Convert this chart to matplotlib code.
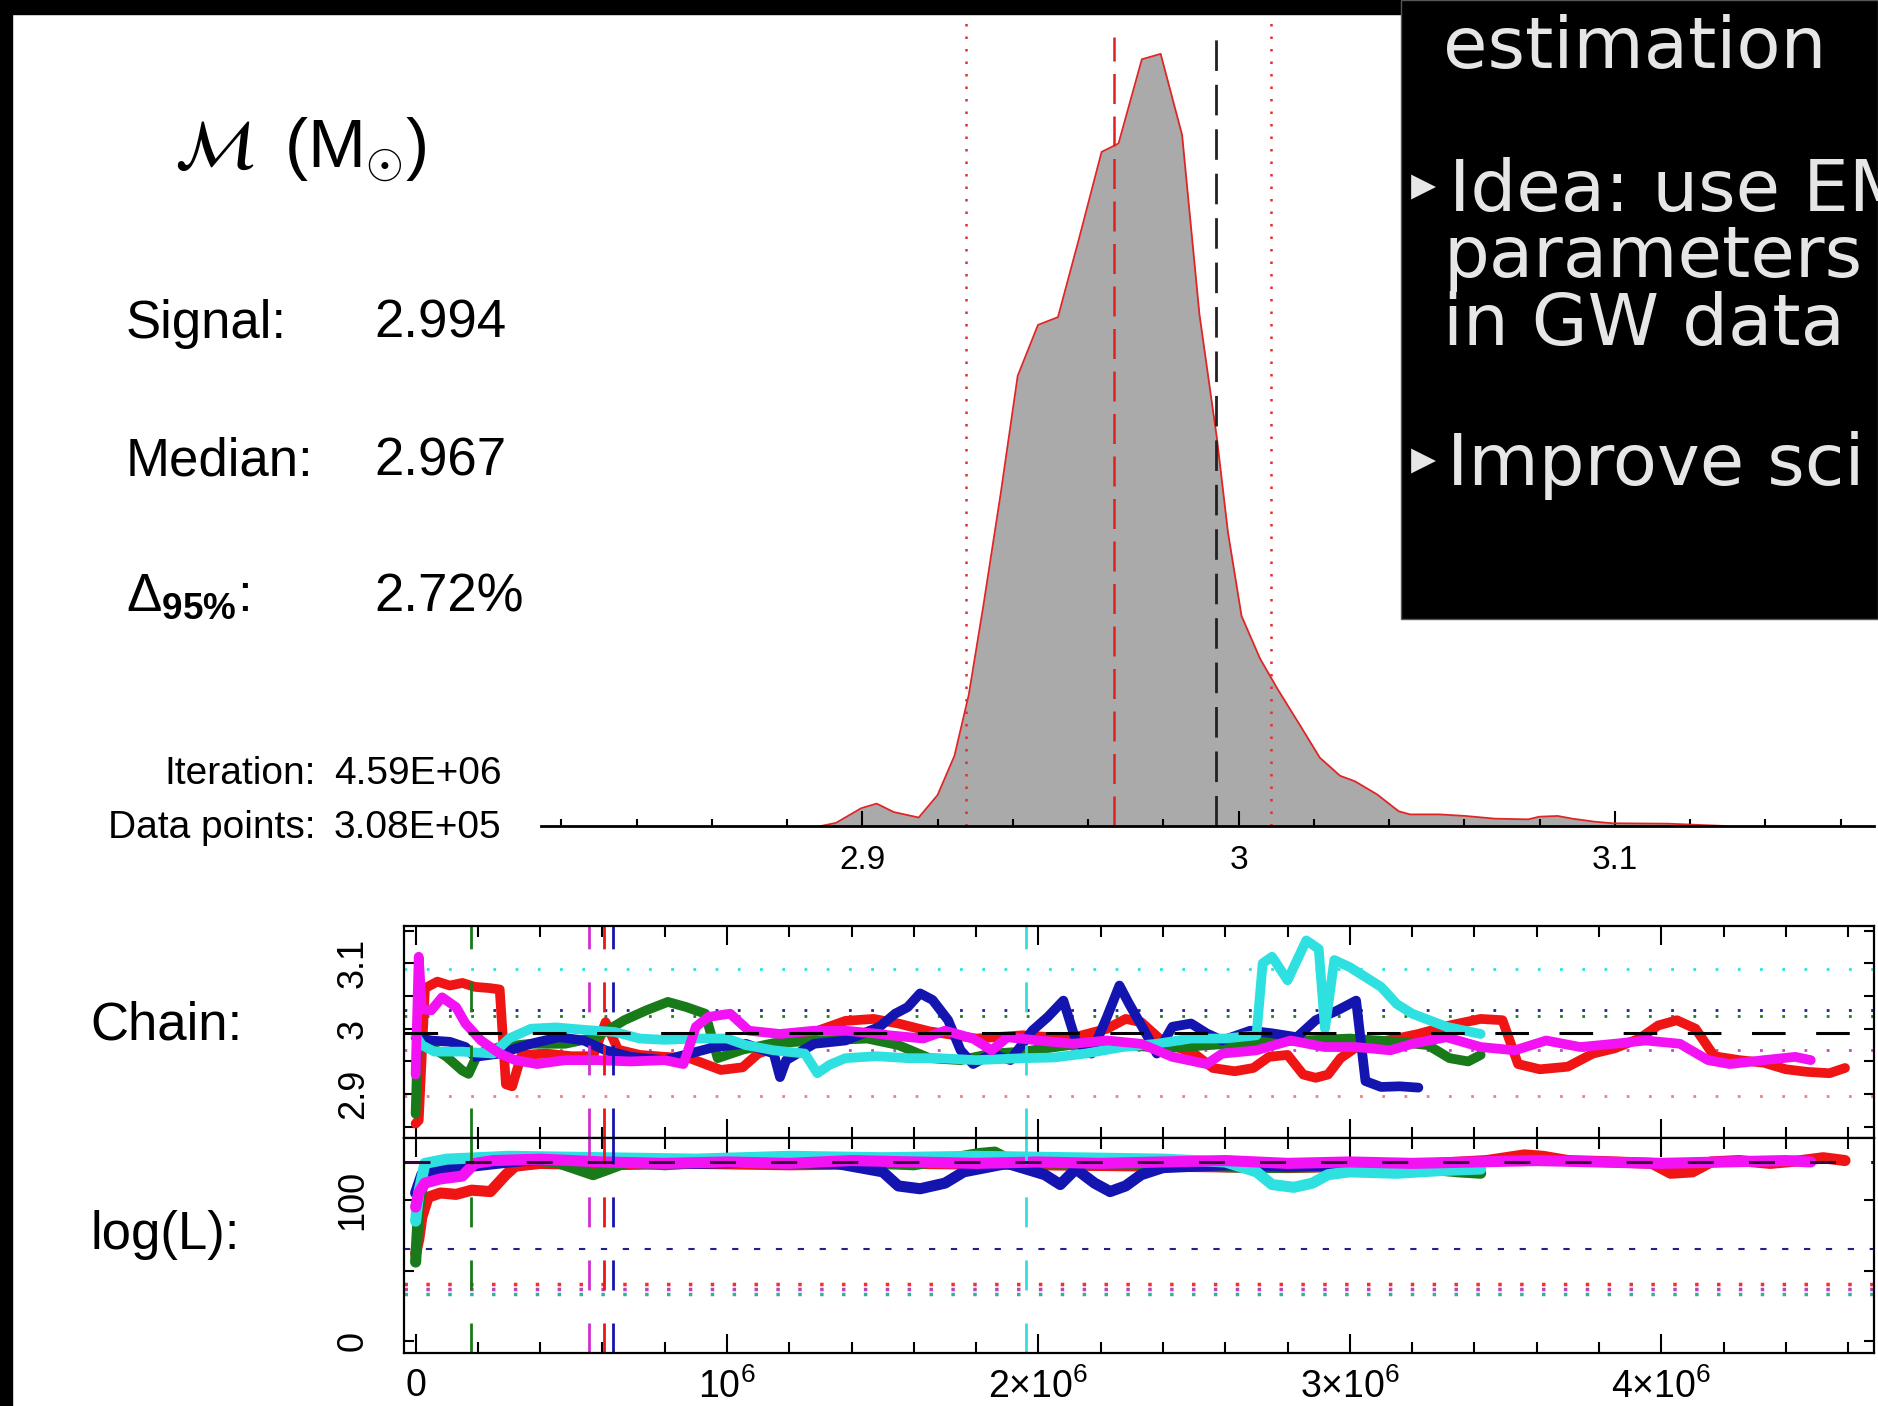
import matplotlib
matplotlib.use("Agg")
import matplotlib.pyplot as plt
from matplotlib.patches import Rectangle
from matplotlib.ticker import MultipleLocator

# -- canvas (pixel geometry of the slide screenshot) --------------------------
W, H, DPI = 1878, 1406, 100


def fx(px):
    return px / W


def fy(py):
    return 1.0 - py / H


plt.rcParams.update({
    "font.family": ["Liberation Sans", "DejaVu Sans"],
    "mathtext.fontset": "custom",
    "mathtext.rm": "Liberation Sans",
    "mathtext.it": "Liberation Sans:italic",
    "mathtext.bf": "Liberation Sans:bold",
})

# -- posterior of the chirp mass (relative frequency) -------------------------
mc_x = [2.889, 2.893, 2.8997, 2.9038, 2.9084, 2.915, 2.920, 2.9245, 2.9283, 2.9322,
        2.9368, 2.9413, 2.9467, 2.952, 2.9574, 2.9636, 2.9681, 2.9743, 2.9793, 2.985,
        2.9896, 2.9942, 2.9972, 3.0008, 3.0057, 3.0103, 3.0164, 3.0216, 3.027, 3.0309,
        3.0368, 3.0426, 3.0456, 3.0534, 3.0603, 3.0681, 3.077, 3.0799, 3.0848, 3.0887,
        3.0946, 3.0995, 3.1142, 3.1294]
mc_pdf = [0.0, 0.004, 0.023, 0.029, 0.018, 0.011, 0.040, 0.091, 0.170, 0.286,
          0.431, 0.583, 0.649, 0.659, 0.757, 0.873, 0.884, 0.993, 1.0, 0.895,
          0.663, 0.504, 0.380, 0.272, 0.217, 0.178, 0.130, 0.0885, 0.065, 0.058,
          0.041, 0.019, 0.015, 0.015, 0.013, 0.0095, 0.0086, 0.012, 0.013, 0.0095,
          0.0056, 0.0035, 0.003, 0.0]
mc_signal = 2.994
mc_median = 2.967
mc_lo95, mc_hi95 = 2.9276, 3.0087
hist_ticks = [2.9, 3.0, 3.1]
hist_ticklabels = ["2.9", "3", "3.1"]

# -- MCMC chains: iteration (units of 1e6) and chirp mass ---------------------
red_it = [0.00, 0.01, 0.03, 0.07, 0.11, 0.15, 0.19, 0.24, 0.27, 0.29,
          0.31, 0.34, 0.42, 0.50, 0.57, 0.61, 0.65, 0.72, 0.80, 0.88,
          0.93, 0.98, 1.05, 1.10, 1.18, 1.28, 1.38, 1.47, 1.55, 1.65,
          1.80, 1.95, 2.10, 2.22, 2.28, 2.33, 2.40, 2.50, 2.56, 2.63,
          2.69, 2.74, 2.80, 2.85, 2.89, 2.93, 2.97, 3.03, 3.12, 3.22,
          3.32, 3.42, 3.49, 3.54, 3.61, 3.70, 3.78, 3.85, 3.93, 3.99,
          4.05, 4.11, 4.17, 4.25, 4.33, 4.40, 4.47, 4.54, 4.59]
red_mc = [2.855, 2.86, 3.062, 3.072, 3.066, 3.07, 3.064, 3.062, 3.06, 2.915,
          2.912, 2.96, 2.962, 2.958, 2.958, 3.01, 2.968, 2.96, 2.957, 2.955,
          2.946, 2.937, 2.941, 2.962, 2.975, 2.995, 3.012, 3.015, 3.008, 2.996,
          2.985, 2.99, 2.985, 3.0, 3.015, 3.01, 2.98, 2.962, 2.94, 2.935,
          2.94, 2.957, 2.96, 2.93, 2.925, 2.93, 2.955, 2.975, 2.982, 2.992,
          3.005, 3.015, 3.013, 2.946, 2.938, 2.942, 2.962, 2.97, 2.985, 3.005,
          3.013, 3.0, 2.958, 2.952, 2.948, 2.938, 2.934, 2.932, 2.94]

green_it = [0.00, 0.005, 0.01, 0.05, 0.10, 0.15, 0.17, 0.20, 0.27, 0.37,
            0.48, 0.58, 0.67, 0.74, 0.81, 0.87, 0.93, 0.97, 1.05, 1.15,
            1.30, 1.45, 1.55, 1.65, 1.75, 1.85, 1.95, 2.10, 2.25, 2.40,
            2.55, 2.70, 2.85, 3.00, 3.15, 3.25, 3.32, 3.38, 3.42]
green_mc = [2.87, 2.95, 2.982, 2.972, 2.957, 2.936, 2.931, 2.962, 2.972, 2.977,
            2.977, 2.987, 3.013, 3.028, 3.041, 3.033, 3.023, 2.955, 2.968, 2.978,
            2.982, 2.985, 2.975, 2.955, 2.952, 2.962, 2.965, 2.975, 2.977, 2.97,
            2.975, 2.98, 2.982, 2.985, 2.98, 2.975, 2.955, 2.95, 2.96]

blue_it = [0.00, 0.05, 0.11, 0.16, 0.19, 0.27, 0.37, 0.46, 0.54, 0.61,
           0.69, 0.80, 0.88, 0.96, 1.06, 1.15, 1.17, 1.19, 1.28, 1.38,
           1.49, 1.54, 1.58, 1.62, 1.66, 1.71, 1.75, 1.79, 1.85, 1.91,
           1.98, 2.03, 2.08, 2.12, 2.17, 2.22, 2.26, 2.29, 2.34, 2.38,
           2.43, 2.49, 2.54, 2.59, 2.68, 2.75, 2.83, 2.89, 2.96, 3.02,
           3.05, 3.10, 3.16, 3.22]
blue_mc = [2.987, 2.982, 2.98, 2.972, 2.957, 2.962, 2.977, 2.987, 2.982, 2.967,
           2.957, 2.952, 2.962, 2.972, 2.977, 2.962, 2.926, 2.952, 2.977, 2.982,
           3.003, 3.023, 3.033, 3.054, 3.044, 3.013, 2.967, 2.946, 2.962, 2.952,
           2.997, 3.018, 3.043, 2.982, 2.962, 3.018, 3.066, 3.039, 2.997, 2.962,
           3.003, 3.008, 2.993, 2.982, 2.997, 2.993, 2.987, 3.013, 3.028, 3.043,
           2.92, 2.911, 2.912, 2.91]

cyan_it = [0.00, 0.02, 0.06, 0.15, 0.25, 0.30, 0.37, 0.45, 0.55, 0.64,
           0.72, 0.80, 0.90, 1.00, 1.06, 1.15, 1.25, 1.29, 1.33, 1.38,
           1.48, 1.58, 1.68, 1.80, 1.95, 2.05, 2.15, 2.27, 2.38, 2.49,
           2.60, 2.70, 2.72, 2.75, 2.80, 2.86, 2.90, 2.92, 2.95, 3.00,
           3.05, 3.10, 3.15, 3.20, 3.31, 3.42]
cyan_mc = [2.99, 2.975, 2.965, 2.965, 2.962, 2.985, 3.0, 3.002, 2.998, 2.995,
           2.985, 2.983, 2.985, 2.985, 2.975, 2.967, 2.962, 2.932, 2.945, 2.955,
           2.958, 2.955, 2.955, 2.952, 2.955, 2.956, 2.962, 2.972, 2.977, 2.985,
           2.985, 2.99, 3.1, 3.11, 3.074, 3.135, 3.122, 3.0, 3.105, 3.094,
           3.079, 3.064, 3.038, 3.023, 3.003, 2.992]

mag_it = [0.00, 0.01, 0.02, 0.05, 0.085, 0.13, 0.16, 0.21, 0.27, 0.32,
          0.39, 0.48, 0.58, 0.69, 0.80, 0.86, 0.90, 0.94, 1.01, 1.07,
          1.17, 1.28, 1.38, 1.49, 1.52, 1.63, 1.70, 1.79, 1.85, 1.90,
          2.00, 2.11, 2.22, 2.33, 2.43, 2.54, 2.59, 2.70, 2.81, 2.92,
          3.02, 3.13, 3.20, 3.31, 3.42, 3.53, 3.63, 3.74, 3.85, 3.95,
          4.06, 4.15, 4.22, 4.33, 4.43, 4.48]
mag_mc = [2.93, 3.11, 3.03, 3.028, 3.048, 3.033, 3.008, 2.982, 2.962, 2.952,
          2.946, 2.952, 2.952, 2.95, 2.952, 2.946, 3.003, 3.018, 3.023, 2.997,
          2.992, 2.997, 2.997, 2.992, 2.99, 2.985, 2.997, 2.985, 2.967, 2.987,
          2.982, 2.977, 2.982, 2.977, 2.957, 2.946, 2.962, 2.967, 2.982, 2.972,
          2.972, 2.967, 2.977, 2.987, 2.972, 2.967, 2.982, 2.972, 2.977, 2.982,
          2.977, 2.952, 2.946, 2.952, 2.957, 2.952]

# -- log-likelihood of the chains ---------------------------------------------
red_itL = [0.00, 0.01, 0.02, 0.04, 0.08, 0.13, 0.18, 0.24, 0.29, 0.32,
           0.40, 0.60, 0.90, 1.20, 1.60, 2.00, 2.40, 2.80, 3.20, 3.44,
           3.56, 3.62, 3.70, 3.85, 3.97, 4.03, 4.10, 4.16, 4.25, 4.35,
           4.45, 4.52, 4.59]
red_logL = [62, 72, 88, 102, 105, 104, 107, 106, 118, 124,
            126, 125, 126, 125, 126, 125, 124, 123, 125, 128,
            132, 131, 128, 127, 126, 119, 120, 127, 128, 126,
            128, 130, 128]
green_itL = [0.00, 0.01, 0.03, 0.08, 0.18, 0.30, 0.45, 0.57, 0.62, 0.68,
             0.80, 1.00, 1.20, 1.40, 1.60, 1.81, 1.86, 1.92, 2.10, 2.40,
             2.70, 3.00, 3.20, 3.35, 3.42]
green_logL = [56, 95, 120, 125, 128, 130, 127, 118, 122, 127,
              125, 128, 126, 127, 125, 133, 134, 127, 126, 125,
              123, 124, 123, 120, 119]
blue_itL = [0.00, 0.02, 0.08, 0.18, 0.30, 0.45, 0.65, 0.90, 1.10, 1.35,
            1.50, 1.55, 1.62, 1.70, 1.76, 1.90, 2.02, 2.07, 2.12, 2.18,
            2.23, 2.28, 2.33, 2.40, 2.60, 2.80, 3.00, 3.10, 3.22]
blue_logL = [105, 118, 121, 124, 127, 130, 128, 126, 127, 126,
             120, 110, 108, 112, 120, 126, 118, 111, 122, 112,
             106, 110, 118, 123, 125, 124, 125, 124, 123]
cyan_itL = [0.00, 0.01, 0.03, 0.10, 0.30, 0.60, 0.90, 1.20, 1.50, 1.80,
            2.10, 2.40, 2.60, 2.70, 2.75, 2.82, 2.88, 2.93, 3.00, 3.15,
            3.30, 3.42]
cyan_logL = [85, 105, 126, 129, 131, 130, 129, 131, 130, 131,
             130, 129, 127, 120, 111, 109, 112, 118, 120, 119,
             121, 122]
mag_itL = [0.00, 0.01, 0.03, 0.08, 0.15, 0.19, 0.25, 0.40, 0.60, 0.80,
           1.00, 1.20, 1.40, 1.60, 1.80, 2.00, 2.20, 2.40, 2.60, 2.80,
           3.00, 3.20, 3.40, 3.60, 3.80, 4.00, 4.20, 4.40, 4.48]
mag_logL = [95, 105, 112, 115, 117, 126, 128, 129, 127, 126,
            127, 126, 128, 127, 126, 127, 126, 127, 128, 126,
            127, 126, 127, 128, 127, 126, 127, 128, 127]

# burn-in markers and per-chain reference levels
burn_it = [0.178, 0.556, 0.606, 0.635, 1.96]
mc_levels = [3.091, 3.029, 3.020, 2.967, 2.897]
logL_signal = 127
logL_levels = [40.4, 36.6, 33.1]

chain_ticks = [0, 1, 2, 3, 4]
chain_ticklabels = ["$0$", "$10^6$", r"$2{\times}10^6$", r"$3{\times}10^6$", r"$4{\times}10^6$"]

C_RED, C_GREEN, C_BLUE = "#f01515", "#187a18", "#1414b0"
C_CYAN, C_MAG = "#2fe0e0", "#f312f3"

fig = plt.figure(figsize=(W / DPI, H / DPI), dpi=DPI, facecolor="white")

# ---------------------------------------------------------------------------
#  posterior histogram
# ---------------------------------------------------------------------------
axh = fig.add_axes([fx(541), fy(826), fx(1874) - fx(541), (826 - 23) / H])
axh.fill_between(mc_x, mc_pdf, color="#aaaaaa", lw=0, zorder=1)
axh.plot(mc_x, mc_pdf, color="#e02525", lw=1.3, zorder=2)
axh.axvline(mc_lo95, color="#e03030", lw=1.8, ls=(0, (1, 4)), zorder=3)
axh.axvline(mc_hi95, color="#e03030", lw=1.8, ls=(0, (1, 4)), zorder=3)
axh.axvline(mc_median, ymax=0.982, color="#e02020", lw=1.8, ls=(0, (12, 5)), zorder=3)
axh.axvline(mc_signal, ymax=0.982, color="#222222", lw=2.0, ls=(0, (11, 5)), zorder=3)
axh.set_xlim(2.8146, 3.1689)
axh.set_ylim(0, 1.040)
for s in ("top", "left", "right"):
    axh.spines[s].set_visible(False)
axh.spines["bottom"].set_linewidth(2.0)
axh.spines["bottom"].set_zorder(4)
axh.set_yticks([])
axh.set_xticks(hist_ticks, labels=hist_ticklabels)
axh.xaxis.set_minor_locator(MultipleLocator(0.02))
axh.tick_params(axis="x", which="both", direction="in", width=1.5)
axh.tick_params(axis="x", which="major", length=11, pad=14, labelsize=24)
axh.tick_params(axis="x", which="minor", length=5)
axh.patch.set_alpha(0)

# ---------------------------------------------------------------------------
#  chain traces: chirp mass and log-likelihood
# ---------------------------------------------------------------------------
axc = fig.add_axes([fx(404), fy(1138), 1470 / W, 212 / H])
axl = fig.add_axes([fx(404), fy(1353), 1470 / W, 215 / H])

chain_colors = [C_RED, C_GREEN, C_BLUE, C_CYAN, C_MAG]
mc_traces = [(red_it, red_mc), (green_it, green_mc), (blue_it, blue_mc),
             (cyan_it, cyan_mc), (mag_it, mag_mc)]
logL_traces = [(red_itL, red_logL), (green_itL, green_logL), (blue_itL, blue_logL),
               (cyan_itL, cyan_logL), (mag_itL, mag_logL)]

# reference levels (dotted) under the chains
for lev, col in zip(mc_levels, [C_CYAN, "#2020a0", "#208020", "#d040d0", "#f08080"]):
    axc.axhline(lev, color=col, lw=2.0, ls=(0, (1, 7)), zorder=1)
axl.axhline(65.2, color="#202090", lw=1.5, ls=(0, (3, 7.5)), zorder=1)
for lev, col in zip(logL_levels, ["#f03030", "#c040c0", "#30b0a0"]):
    axl.axhline(lev, color=col, lw=2.5, ls=(0, (1, 5.3)), zorder=1)

for (it, val), col in zip(mc_traces, chain_colors):
    axc.plot(it, val, color=col, lw=7, solid_joinstyle="round",
             solid_capstyle="round", zorder=2)
for (it, val), col in zip(logL_traces, chain_colors):
    axl.plot(it, val, color=col, lw=8, solid_joinstyle="round",
             solid_capstyle="round", zorder=2)

for ax in (axc, axl):
    for b, col in zip(burn_it, [C_GREEN, "#d030d0", C_RED, C_BLUE, C_CYAN]):
        ax.axvline(b, color=col, lw=2.0, ls=(0, (10.8, 11.9)), zorder=3)

axc.axhline(mc_signal, color="black", lw=2.2, ls=(0, (11, 10)), zorder=4)
axl.axhline(logL_signal, color="#3c003c", lw=2.2, ls=(0, (8.5, 11.5)), zorder=4)

for ax in (axc, axl):
    ax.set_xlim(-0.0373, 4.683)
    ax.xaxis.set_major_locator(MultipleLocator(1))
    ax.xaxis.set_minor_locator(MultipleLocator(0.2))
    ax.tick_params(which="both", direction="in", top=True, right=True, width=1.5)
    ax.tick_params(axis="x", which="major", length=14)
    ax.tick_params(axis="x", which="minor", length=8)
    ax.tick_params(axis="y", which="both", length=7, labelsize=26, pad=24,
                   labelrotation=90)
    for s in ax.spines.values():
        s.set_linewidth(1.6)
        s.set_zorder(5)

axc.set_ylim(2.833, 3.157)
axc.set_yticks([2.9, 3.0, 3.1], labels=["2.9", "3", "3.1"])
axc.set_yticks([2.85, 2.95, 3.05, 3.15], minor=True)
axc.tick_params(axis="x", labelbottom=False)

axl.set_ylim(-8.5, 144)
axl.set_yticks([0, 100], labels=["0", "100"])
axl.set_yticks([50], minor=True)
axl.set_xticks(chain_ticks, labels=chain_ticklabels)
axl.tick_params(axis="x", which="major", labelsize=27, pad=11)

for ax in (axc, axl):
    for lab in ax.get_yticklabels():
        lab.set_verticalalignment("center")

# ---------------------------------------------------------------------------
#  annotation text on the left
# ---------------------------------------------------------------------------
fig.text(fx(174), fy(168), r"$\mathcal{M}$", fontsize=50, math_fontfamily="stix",
         va="baseline")
fig.text(fx(284), fy(168), r"(M$_{\odot}$)", fontsize=50, va="baseline")

fig.text(fx(126), fy(338), "Signal:", fontsize=38, va="baseline")
fig.text(fx(374), fy(338), f"{mc_signal:.3f}", fontsize=38, va="baseline")
fig.text(fx(126), fy(475), "Median:", fontsize=38, va="baseline")
fig.text(fx(374), fy(475), f"{mc_median:.3f}", fontsize=38, va="baseline")
fig.text(fx(126), fy(611), r"$\Delta_{\mathbf{95\%}}$:", fontsize=38, va="baseline")
fig.text(fx(374), fy(611), "2.72%", fontsize=38, va="baseline")

fig.text(fx(316), fy(784), "Iteration:", fontsize=28, ha="right", va="baseline")
fig.text(fx(334), fy(784), "4.59E+06", fontsize=28, va="baseline")
fig.text(fx(316), fy(838), "Data points:", fontsize=28, ha="right", va="baseline")
fig.text(fx(334), fy(838), "3.08E+05", fontsize=28, va="baseline")

fig.text(fx(90), fy(1040), "Chain:", fontsize=38, va="baseline")
fig.text(fx(90), fy(1249), "log(L):", fontsize=38, va="baseline")

# ---------------------------------------------------------------------------
#  slide frame and the black text box on the right
# ---------------------------------------------------------------------------
fig.add_artist(Rectangle((0, fy(14)), 1, 14 / H, transform=fig.transFigure,
                         color="black", zorder=20))
fig.add_artist(Rectangle((0, 0), fx(12), 1, transform=fig.transFigure,
                         color="black", zorder=20))
fig.add_artist(Rectangle((fx(1401), fy(619)), 1 - fx(1401), 619 / H,
                         transform=fig.transFigure, facecolor="black",
                         edgecolor="#555555", lw=1, zorder=20))

slide_kw = dict(family="DejaVu Sans", fontsize=52, color="#e6e6e6",
                va="baseline", zorder=21)
fig.text(fx(1443), fy(68), "estimation", **slide_kw)
fig.text(fx(1449), fy(211), "Idea: use EM", **slide_kw)
fig.text(fx(1443), fy(277), "parameters", **slide_kw)
fig.text(fx(1443), fy(345), "in GW data", **slide_kw)
fig.text(fx(1447), fy(485), "Improve sci", **slide_kw)
for yb in (186, 460):
    fig.text(fx(1411), fy(yb), "\u25b8", family="DejaVu Sans", fontsize=36,
             color="#e6e6e6", va="center", zorder=21)

fig.savefig("out.png", dpi=DPI, facecolor="white")
